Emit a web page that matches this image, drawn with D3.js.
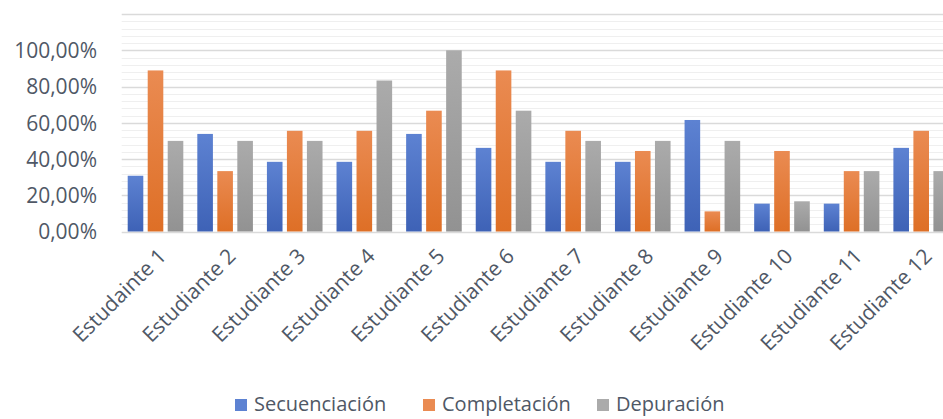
<!DOCTYPE html>
<html><head><meta charset="utf-8">
<script src="https://cdn.jsdelivr.net/npm/d3@7"></script>
<style>body{margin:0;background:#fff;}svg{display:block;font-family:"Open Sans",sans-serif;}</style>
</head><body><svg id="c" width="943" height="419"></svg>
<script>
const categories = ["Estudainte 1","Estudiante 2","Estudiante 3","Estudiante 4","Estudiante 5","Estudiante 6","Estudiante 7","Estudiante 8","Estudiante 9","Estudiante 10","Estudiante 11","Estudiante 12"];
const seriesNames = ["Secuenciación","Completación","Depuración"];
const secuenciacion = [0.3077,0.5385,0.3846,0.3846,0.5385,0.4615,0.3846,0.3846,0.6154,0.1538,0.1538,0.4615];
const completacion = [0.8889,0.3333,0.5556,0.5556,0.6667,0.8889,0.5556,0.4444,0.1111,0.4444,0.3333,0.5556];
const depuracion = [0.50,0.50,0.50,0.8333,1.00,0.6667,0.50,0.50,0.50,0.1667,0.3333,0.3333];
const yTicks = [0,0.2,0.4,0.6,0.8,1.0];
const colorsTop = ["#5d82d2","#ea8b52","#ababab"];
const colorsBot = ["#3e62b6","#de6f26","#929292"];

const values = [secuenciacion, completacion, depuracion];
const svg = d3.select("#c");
const defs = svg.append("defs");
seriesNames.forEach((s,i)=>{
  const g = defs.append("linearGradient").attr("id","g"+i).attr("x1",0).attr("y1",0).attr("x2",0).attr("y2",1);
  g.append("stop").attr("offset","0%").attr("stop-color",colorsTop[i]);
  g.append("stop").attr("offset","100%").attr("stop-color",colorsBot[i]);
});

const left = 120.7, right = 956, y0 = 231.5, y100 = 50.3;
const y = d3.scaleLinear().domain([0,1]).range([y0,y100]);
const x0 = d3.scaleBand().domain(categories).range([left,right]).padding(0);
const x1 = d3.scaleBand().domain(seriesNames).range([7, x0.bandwidth()-7]).paddingInner(0.22).paddingOuter(0);

// gridlines: minor every 4%, major every 20%, up to 120%
const minor = d3.range(0, 1.2001, 0.04);
svg.append("g").selectAll("line").data(minor).join("line")
  .attr("x1",left+1).attr("x2",943)
  .attr("y1",d=>Math.round(y(d))+0.5).attr("y2",d=>Math.round(y(d))+0.5)
  .attr("stroke",d=>Math.abs(d*5-Math.round(d*5))<1e-6 ? "#dadada" : "#efefef")
  .attr("stroke-width",d=>Math.abs(d*5-Math.round(d*5))<1e-6 ? 1.6 : 1.2);

// bars
const gg = svg.append("g");
categories.forEach((c,ci)=>{
  seriesNames.forEach((s,si)=>{
    const v = values[si][ci];
    gg.append("rect")
      .attr("x", x0(c)+x1(s)).attr("width", x1.bandwidth())
      .attr("y", y(v)).attr("height", y0 - y(v))
      .attr("fill","url(#g"+si+")");
  });
});

// y axis labels
const yAxis = d3.axisLeft(y).tickValues(yTicks).tickSize(0).tickPadding(0)
  .tickFormat(d=>d3.format(".2f")(d*100).replace(".",",")+"%");
const ya = svg.append("g").attr("transform","translate(97,0)").call(yAxis);
ya.select(".domain").remove();
ya.selectAll("text").attr("font-size",21).attr("fill","#4f5866").attr("font-family","Open Sans").attr("dy","0.35em");

// x labels
const xAxis = d3.axisBottom(x0).tickSize(0).tickPadding(0);
const xa = svg.append("g").attr("transform",`translate(0,${y0})`).call(xAxis);
xa.select(".domain").remove();
xa.selectAll("text").attr("font-size",21).attr("fill","#4f5866").attr("font-family","Open Sans")
  .attr("text-anchor","end").attr("dy",0).attr("y",0)
  .attr("transform","translate(12,26) rotate(-45)");

// legend
const lg = svg.append("g");
const legX = [235, 423, 597];
seriesNames.forEach((s,i)=>{
  lg.append("rect").attr("x",legX[i]).attr("y",399).attr("width",12).attr("height",12).attr("fill",colorsTop[i]);
  lg.append("text").attr("x",legX[i]+19).attr("y",411).attr("font-size",20).attr("fill","#4f5866").text(s);
});
</script></body></html>
